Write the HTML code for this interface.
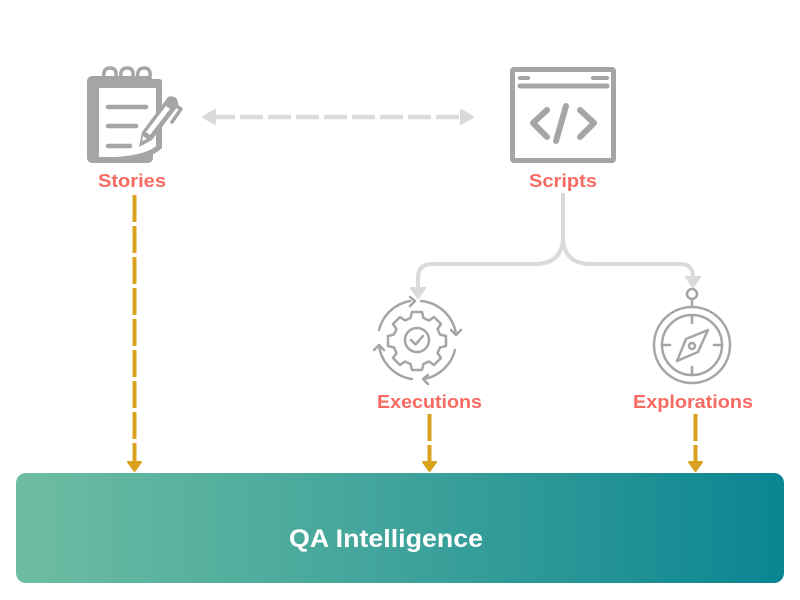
<!DOCTYPE html>
<html><head><meta charset="utf-8"><style>
html,body{margin:0;padding:0;background:#fff;}
svg{display:block;}
text{font-family:"Liberation Sans",Arial,sans-serif;font-weight:bold;}
</style></head><body>
<svg width="800" height="600" viewBox="0 0 800 600" xmlns="http://www.w3.org/2000/svg">
<defs>
<linearGradient id="g" x1="0" y1="0" x2="1" y2="0">
<stop offset="0" stop-color="#6EBDA2"/>
<stop offset="0.5" stop-color="#3FA39B"/>
<stop offset="1" stop-color="#0A8592"/>
</linearGradient>
</defs>

<!-- Stories notebook icon -->
<rect x="87" y="76" width="66" height="87" rx="5" fill="#A5A5A5"/>
<path d="M95,79 H159 Q162,79 162,82 V148 Q150,160 115,162 H95 Z" fill="#A5A5A5"/>
<path d="M99,88 H156 V146 Q146,155 115,157 H99 Z" fill="#fff"/>
<g stroke="#A5A5A5" stroke-width="3.5" fill="none" stroke-linecap="round">
<path d="M104,80 Q102,68 110,68 Q117,68 116,76 Q115,82 110,86"/>
<path d="M121,80 Q119,68 127,68 Q134,68 133,76 Q132,82 127,86"/>
<path d="M138,80 Q136,68 144,68 Q151,68 150,76 Q149,82 144,86"/>
</g>
<g stroke="#A5A5A5" stroke-width="4.5" stroke-linecap="round">
<line x1="108" y1="107" x2="146" y2="107"/>
<line x1="108" y1="126" x2="136" y2="126"/>
<line x1="108" y1="146" x2="130" y2="146"/>
</g>
<g>
<path d="M168,97 Q172,95 176,98 Q179,102 178,106 L152,140 L139,147 L142,132 Z" fill="#A5A5A5"/>
<path d="M166,106 L170,109 L150,135 L146,132 Z" fill="#fff"/>
<path d="M147,139 L143,136 L142,141 Z" fill="#fff"/>
<path d="M175,105 L181,109 L172,122" stroke="#A5A5A5" stroke-width="3.5" fill="none" stroke-linecap="round" stroke-linejoin="round"/>
</g>

<!-- bidirectional gray dashed arrow -->
<line x1="212" y1="117" x2="464" y2="117" stroke="#DADADA" stroke-width="4.5" stroke-dasharray="23 5"/>
<path d="M203,117 L215,110 L215,124 Z" fill="#DADADA" stroke="#DADADA" stroke-width="2" stroke-linejoin="round"/>
<path d="M473,117 L461,110 L461,124 Z" fill="#DADADA" stroke="#DADADA" stroke-width="2" stroke-linejoin="round"/>

<!-- Scripts browser icon -->
<g stroke="#A5A5A5" fill="none" stroke-linecap="round" stroke-linejoin="round">
<rect x="512.5" y="69.5" width="101" height="91" rx="1.5" stroke-width="5"/>
<line x1="520" y1="86" x2="607" y2="86" stroke-width="5"/>
<line x1="520" y1="78" x2="528" y2="78" stroke-width="4"/>
<line x1="593" y1="78" x2="607" y2="78" stroke-width="4"/>
<polyline points="547,110 533,123 547,137" stroke-width="6"/>
<line x1="566" y1="106" x2="556" y2="141" stroke-width="6"/>
<polyline points="580,110 594,123 580,137" stroke-width="6"/>
</g>

<!-- Scripts branching connector -->
<g stroke="#DADADA" stroke-width="4" fill="none">
<path d="M563,193 V236 Q563,264 535,264 H432 Q418,264 418,278 V288"/>
<path d="M563,236 Q563,264 591,264 H680 Q693,264 693,277 V278"/>
</g>
<path d="M411,288 L425,288 L418,298 Z" fill="#DADADA" stroke="#DADADA" stroke-width="2" stroke-linejoin="round"/>
<path d="M686,277 L700,277 L693,287 Z" fill="#DADADA" stroke="#DADADA" stroke-width="2" stroke-linejoin="round"/>

<!-- Executions icon -->
<g stroke="#A5A5A5" stroke-width="2.5" fill="none" stroke-linecap="round" stroke-linejoin="round">
<path d="M421,301 A39,39 0 0 1 456,334"/>
<path d="M455,350 A39,39 0 0 1 424,379"/>
<path d="M412,379 A39,39 0 0 1 379,346"/>
<path d="M379,330 A39,39 0 0 1 410,301"/>
<polyline points="410,297 415,301 410,306"/>
<polyline points="451,330 456,335 461,330"/>
<polyline points="428,375 423,379 428,384"/>
<polyline points="374,350 379,345 384,350"/>
<path d="M412,312 h10 l1.5,6 l5.5,2.5 l5,-3.5 l7,7 l-3.5,5 l2.5,5.5 l6,1.5 v10 l-6,1.5 l-2.5,5.5 l3.5,5 l-7,7 l-5,-3.5 l-5.5,2.5 l-1.5,6 h-10 l-1.5,-6 l-5.5,-2.5 l-5,3.5 l-7,-7 l3.5,-5 l-2.5,-5.5 l-6,-1.5 v-10 l6,-1.5 l2.5,-5.5 l-3.5,-5 l7,-7 l5,3.5 l5.5,-2.5 Z"/>
<circle cx="417" cy="340" r="12"/>
<polyline points="411,340 415.5,344.5 423,336"/>
</g>

<!-- Explorations compass icon -->
<g stroke="#A5A5A5" stroke-width="2.5" fill="none" stroke-linecap="round" stroke-linejoin="round">
<circle cx="692" cy="294" r="5"/>
<line x1="692" y1="299" x2="692" y2="306"/>
<circle cx="692" cy="345" r="38"/>
<circle cx="692" cy="345" r="30"/>
<line x1="692" y1="315" x2="692" y2="323"/>
<line x1="692" y1="367" x2="692" y2="375"/>
<line x1="662" y1="345" x2="670" y2="345"/>
<line x1="714" y1="345" x2="722" y2="345"/>
<path d="M708,330 L698,352 L677,361 L686,339 Z"/>
<circle cx="692" cy="346" r="3"/>
</g>

<!-- Gold dashed arrows -->
<g stroke="#D9A11E" stroke-width="4" fill="none">
<line x1="134.5" y1="195" x2="134.5" y2="463" stroke-dasharray="27 4"/>
<line x1="429.5" y1="414" x2="429.5" y2="463" stroke-dasharray="27 4"/>
<line x1="695.5" y1="414" x2="695.5" y2="463" stroke-dasharray="27 4"/>
</g>
<g fill="#D9A11E" stroke="#D9A11E" stroke-width="2" stroke-linejoin="round">
<path d="M128,462 L141,462 L134.5,471 Z"/>
<path d="M423,462 L436,462 L429.5,471 Z"/>
<path d="M689,462 L702,462 L695.5,471 Z"/>
</g>

<!-- Labels -->
<g fill="#F76B62" font-size="18">
<text x="98" y="187" textLength="68" lengthAdjust="spacingAndGlyphs">Stories</text>
<text x="529" y="187" textLength="68" lengthAdjust="spacingAndGlyphs">Scripts</text>
<text x="377" y="408" textLength="105" lengthAdjust="spacingAndGlyphs">Executions</text>
<text x="633" y="408" textLength="120" lengthAdjust="spacingAndGlyphs">Explorations</text>
</g>

<!-- QA Intelligence box -->
<rect x="16" y="473" width="768" height="110" rx="10" fill="url(#g)"/>
<text x="289" y="547" fill="#fff" font-size="25" textLength="194" lengthAdjust="spacingAndGlyphs">QA Intelligence</text>
</svg>
</body></html>
